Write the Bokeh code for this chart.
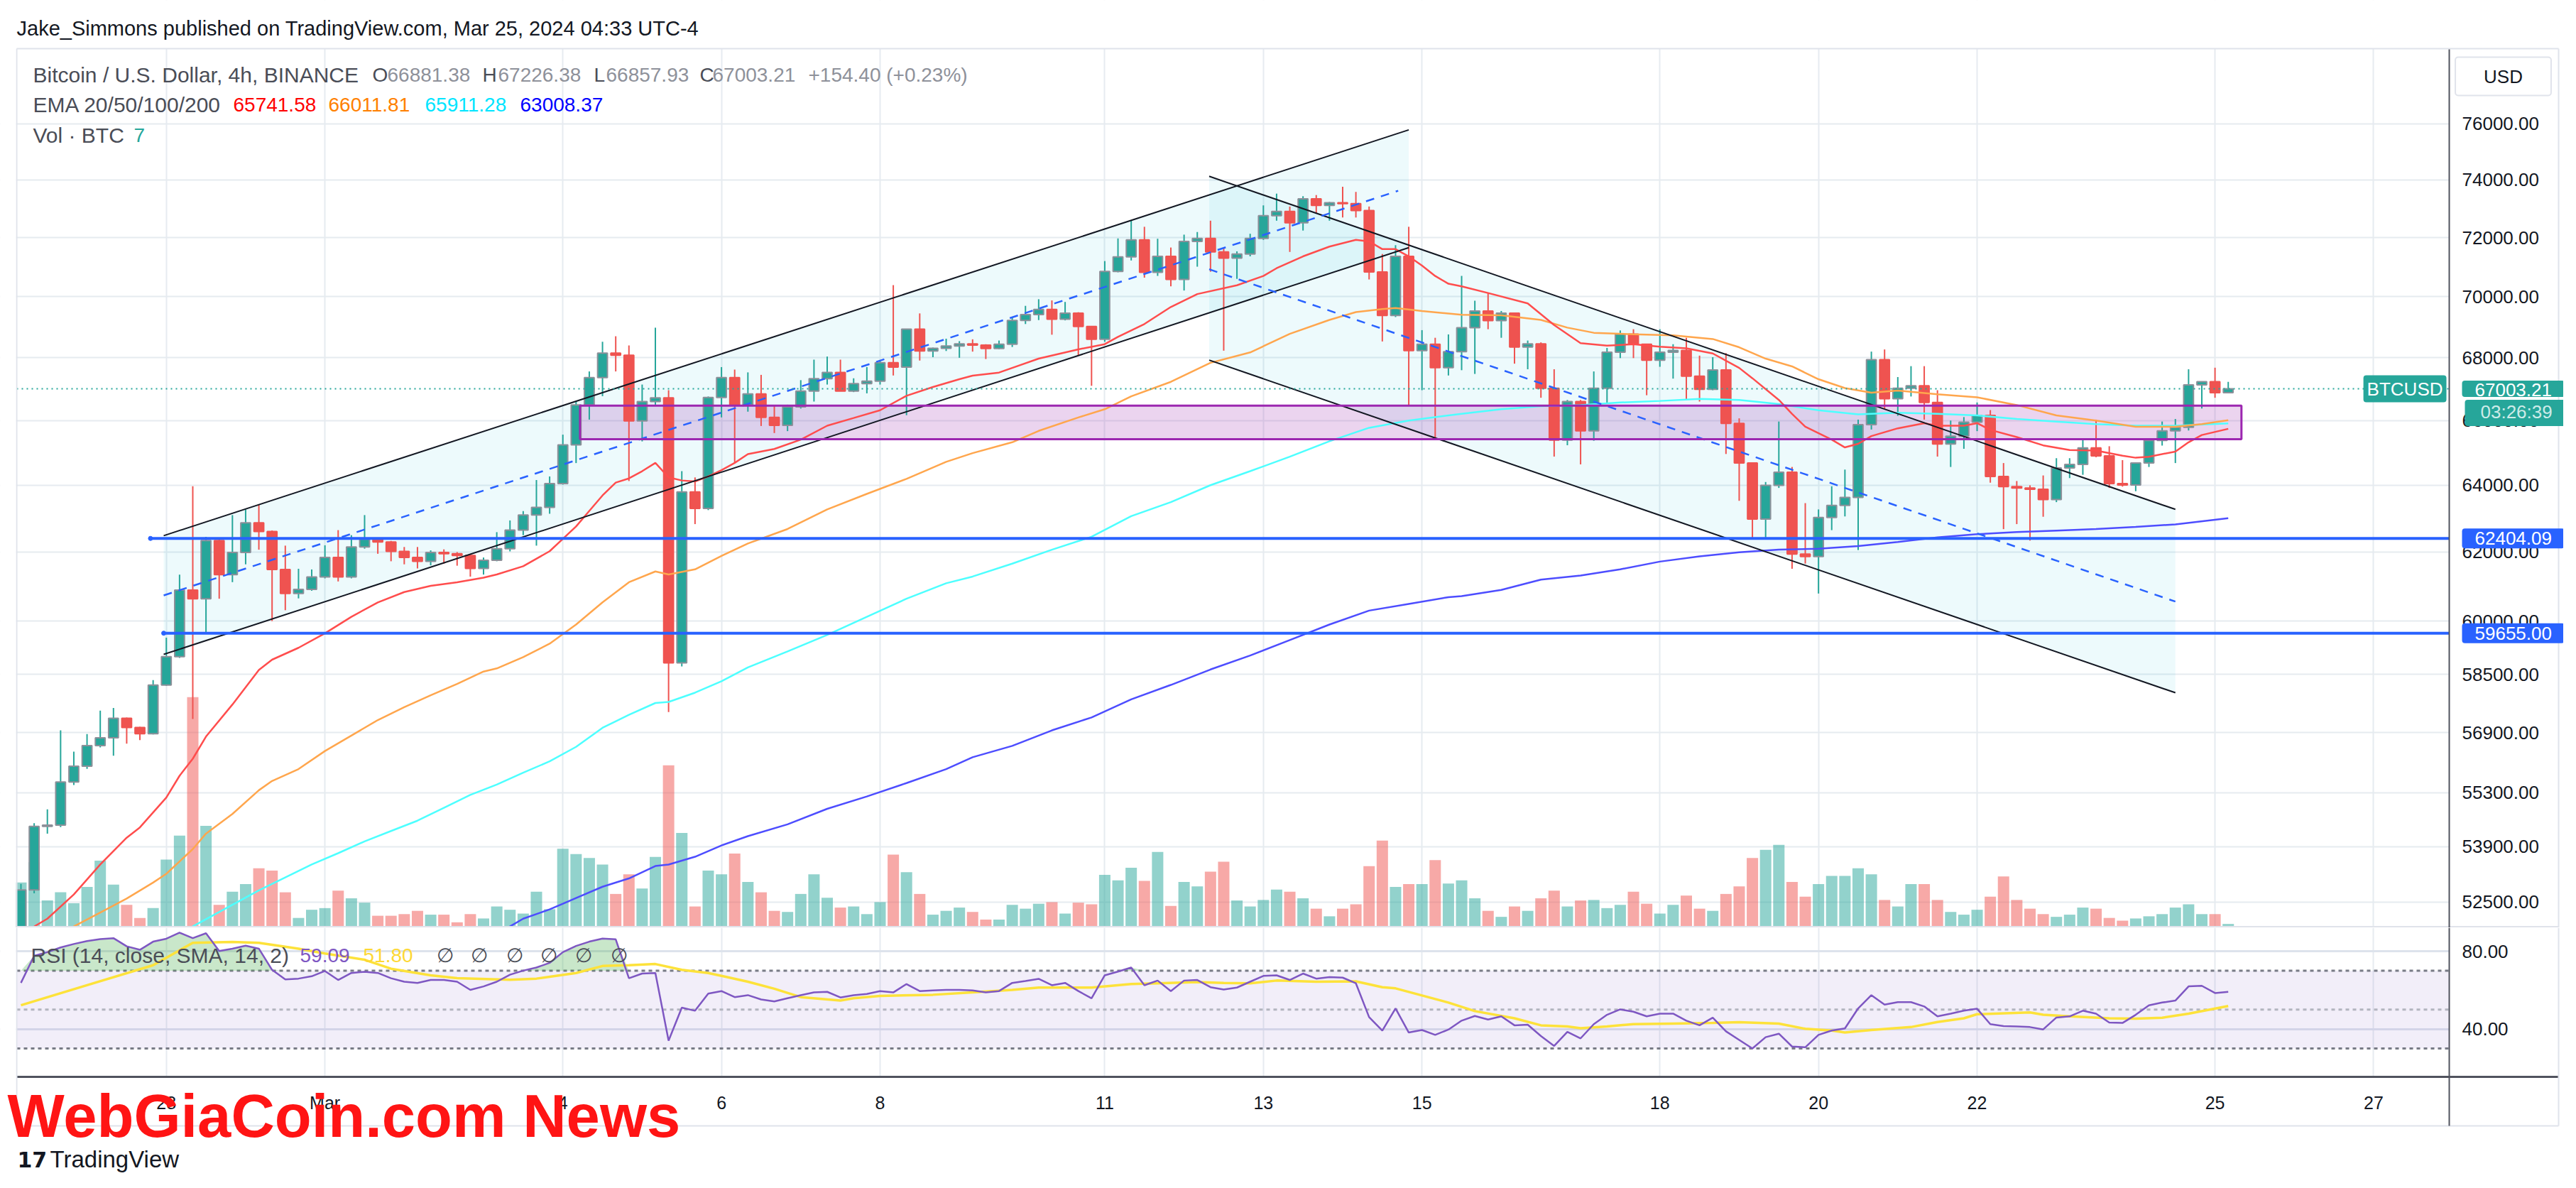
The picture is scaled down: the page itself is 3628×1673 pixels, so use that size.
import math
import numpy as np
from bokeh.plotting import figure
from bokeh.layouts import column
from bokeh.models import (ColumnDataSource, Range1d, LinearScale, FixedTicker,
                          PrintfTickFormatter, Label, Grid, BoxAnnotation)
from bokeh.embed import file_html
from bokeh.resources import INLINE

# ---------------- data (BTCUSD 4h, Binance, Feb 26 - Mar 25 2024) ----------------
opens = [51600, 52800, 54420, 54450, 55580, 56000, 56550, 56760, 57290, 57040,
         56870, 58200, 58990, 60890, 60640, 62340, 61340, 61990, 62870, 62610,
         61490, 60790, 60910, 61270, 61840, 61270, 62150, 62380, 62300, 62020,
         61840, 61730, 61990, 61950, 61900, 61520, 61760, 62100, 62650, 63100,
         63330, 64050, 65240, 66490, 67360, 68150, 68080, 65990, 66600, 66720,
         58820, 63800, 63300, 66730, 67360, 66490, 66840, 66100, 65850, 66430,
         66930, 67330, 67530, 66930, 67170, 67250, 67840, 67700, 68930, 68220,
         68310, 68380, 68450, 68410, 68300, 68440, 69220, 69410, 69580, 69260,
         69460, 69020, 68600, 70850, 71340, 71920, 70820, 71360, 70580, 71870,
         71970, 71510, 71300, 71440, 71970, 72750, 72900, 72510, 73340, 73110,
         73200, 73170, 72930, 70830, 69380, 71360, 68230, 68440, 67680, 68200,
         68980, 69530, 69210, 69460, 68350, 68450, 67020, 65390, 66600, 65680,
         67020, 68180, 68770, 68440, 67920, 68180, 68240, 67410, 66990, 67610,
         65910, 64680, 62980, 64000, 64400, 61940, 61870, 63030, 63390, 63630,
         65870, 67940, 66690, 67020, 67100, 66570, 65270, 65510, 65950, 66160,
         64270, 63960, 63920, 63880, 63570, 64530, 64640, 65150, 64900, 64050,
         64010, 64680, 65380, 65680, 65790, 67130, 67230, 66881.38]
highs = [52950, 54500, 54860, 56960, 56390, 56860, 57500, 57570, 57310, 57060,
         58340, 59530, 61340, 63970, 62450, 62370, 63100, 63270, 63410, 62640,
         62190, 61510, 61490, 62200, 62650, 62500, 63100, 62410, 62330, 62150,
         62150, 62050, 62080, 62000, 61920, 61840, 62590, 62940, 63220, 64160,
         64270, 65560, 66600, 67560, 68520, 68700, 68400, 67140, 68980, 66960,
         64430, 64240, 66760, 67700, 67620, 67530, 67450, 66460, 66500, 67280,
         67940, 68040, 67940, 67340, 67700, 67890, 70390, 68930, 69450, 68330,
         68620, 68540, 68600, 68440, 68560, 69310, 69700, 69920, 69880, 69830,
         69490, 69020, 71200, 71970, 72580, 72370, 71960, 71660, 72100, 72190,
         72580, 71650, 71530, 72130, 73110, 73520, 73070, 73430, 73470, 73230,
         73760, 73580, 73070, 71440, 71740, 72370, 68900, 68650, 68760, 70700,
         69870, 70140, 69530, 69480, 68560, 68500, 67630, 66650, 66650, 67560,
         68320, 68890, 68930, 68440, 68930, 68440, 68650, 68070, 68020, 68150,
         66070, 64680, 64100, 65970, 64560, 63460, 63270, 63970, 64480, 66030,
         68200, 68270, 67380, 67730, 67730, 66960, 66000, 66110, 66570, 66330,
         64680, 64130, 64000, 64300, 64830, 64830, 65430, 66030, 65200, 64770,
         64680, 65380, 65970, 66050, 67630, 67230, 67680, 67226.38]
lows = [51500, 52715, 54230, 54400, 55500, 55930, 56500, 56280, 56600, 56700,
        56850, 58180, 58960, 57270, 59630, 60640, 61120, 61640, 62070, 60000,
        60310, 60650, 60870, 61230, 61140, 61230, 62100, 61950, 61730, 61640,
        61520, 61610, 61660, 61600, 61280, 61340, 61730, 62020, 62500, 62190,
        63140, 64020, 64680, 66030, 66770, 67560, 64130, 65350, 66500, 57460,
        58720, 62830, 63250, 66100, 64680, 66280, 65830, 65610, 65670, 66380,
        66600, 67140, 66930, 66900, 66860, 67140, 67430, 66170, 67910, 68020,
        68220, 68000, 68200, 67960, 68280, 68350, 69100, 69230, 68750, 69220,
        68070, 67100, 68520, 70820, 71220, 70640, 70700, 70350, 70210, 71010,
        70840, 68230, 70600, 71360, 71920, 72580, 71510, 72240, 72820, 72580,
        72690, 72690, 70580, 68530, 69330, 66490, 66960, 65430, 67430, 67600,
        67480, 68930, 68650, 67810, 67630, 66720, 64880, 65230, 64640, 65370,
        66550, 67990, 67990, 66800, 67710, 67330, 66650, 66600, 66960, 64960,
        63530, 62400, 62400, 63920, 61510, 61660, 60790, 62650, 63060, 62060,
        65720, 66380, 66150, 66760, 66030, 64880, 64560, 65120, 65670, 64080,
        62680, 62830, 62340, 63050, 63490, 64220, 64320, 64860, 63920, 63960,
        63820, 64560, 65220, 64680, 65690, 66380, 66720, 66857.93]
closes = [52800, 54420, 54450, 55580, 56000, 56550, 56760, 57290, 57040, 56870,
          58200, 58990, 60890, 60640, 62340, 61340, 61990, 62870, 62610, 61490,
          60790, 60910, 61270, 61840, 61270, 62150, 62380, 62300, 62020, 61840,
          61730, 61990, 61950, 61900, 61520, 61760, 62100, 62650, 63100, 63330,
          64050, 65240, 66490, 67360, 68150, 68080, 65990, 66600, 66720, 58820,
          63800, 63300, 66730, 67360, 66490, 66840, 66100, 65850, 66430, 66930,
          67330, 67530, 66930, 67170, 67250, 67840, 67700, 68930, 68220, 68310,
          68380, 68450, 68410, 68300, 68440, 69220, 69410, 69580, 69260, 69460,
          69020, 68600, 70850, 71340, 71920, 70820, 71360, 70580, 71870, 71970,
          71510, 71300, 71440, 71970, 72750, 72900, 72510, 73340, 73110, 73200,
          73170, 72930, 70830, 69380, 71360, 68230, 68440, 67680, 68200, 68980,
          69530, 69210, 69460, 68350, 68450, 67020, 65390, 66600, 65680, 67020,
          68180, 68770, 68440, 67920, 68180, 68240, 67410, 66990, 67610, 65910,
          64680, 62980, 64000, 64400, 61940, 61870, 63030, 63390, 63630, 65870,
          67940, 66690, 67020, 67100, 66570, 65270, 65510, 65950, 66160, 64270,
          63960, 63920, 63880, 63570, 64530, 64640, 65150, 64900, 64050, 64010,
          64680, 65380, 65680, 65790, 67130, 67230, 66881.38, 67003.21]
volumes = [83, 120, 50, 65, 45, 75, 123, 79, 42, 18,
           36, 125, 169, 423, 187, 42, 66, 80, 109, 105,
           65, 18, 33, 36, 68, 54, 46, 22, 22, 25,
           31, 24, 24, 10, 25, 17, 39, 33, 26, 66,
           34, 145, 135, 128, 116, 62, 98, 72, 130, 298,
           174, 39, 105, 98, 136, 84, 65, 31, 29, 62,
           98, 55, 37, 39, 25, 47, 134, 102, 62, 24,
           31, 37, 29, 15, 15, 42, 35, 44, 47, 26,
           46, 43, 97, 87, 110, 86, 139, 40, 84, 76,
           103, 121, 50, 39, 51, 70, 66, 54, 35, 21,
           35, 43, 113, 160, 75, 80, 80, 124, 81, 87,
           54, 31, 20, 39, 31, 54, 68, 39, 50, 51,
           36, 42, 66, 44, 26, 42, 59, 35, 31, 62,
           76, 128, 143, 152, 84, 57, 80, 95, 95, 109,
           98, 51, 39, 80, 80, 51, 29, 24, 33, 57,
           94, 51, 35, 25, 20, 24, 37, 35, 18, 13,
           17, 21, 25, 37, 43, 25, 25, 7]
rsi_vals = [63.7, 77.6, 79.5, 81.9, 83.7, 85.2, 86.2, 86.7, 82.5, 80.7,
            84.9, 86.4, 89.5, 86.7, 89.2, 80.1, 81.3, 82.8, 81.3, 70.4,
            65.5, 65.9, 67.1, 69.8, 65.2, 68.8, 69.4, 68.8, 66.1, 64.3,
            63.7, 65.2, 65.2, 64.3, 60.1, 61.9, 64.3, 67.9, 70.0, 71.6,
            74.0, 79.5, 82.7, 84.9, 86.5, 86.1, 66.1, 68.5, 68.8, 34.0,
            51.0, 49.4, 58.2, 59.5, 56.4, 57.4, 55.2, 54.2, 55.8, 57.4,
            58.8, 59.1, 56.2, 57.4, 58.0, 59.5, 58.8, 63.1, 59.5, 59.8,
            60.1, 60.1, 59.8, 58.8, 59.5, 63.7, 64.7, 65.8, 62.5, 63.7,
            59.5, 55.8, 67.6, 69.5, 71.6, 62.5, 64.9, 59.5, 64.9, 65.2,
            61.5, 60.3, 61.3, 64.3, 67.3, 67.6, 65.2, 68.5, 65.9, 66.7,
            66.4, 63.5, 46.1, 39.2, 50.6, 38.2, 39.5, 37.0, 39.7, 44.3,
            46.7, 44.9, 46.5, 41.9, 42.2, 36.4, 31.3, 38.5, 35.2, 42.5,
            47.3, 50.1, 48.9, 46.5, 47.9, 47.9, 44.3, 41.9, 45.8, 38.8,
            34.4, 30.0, 35.8, 37.6, 31.0, 30.6, 37.0, 39.2, 40.3, 50.6,
            57.4, 52.5, 53.8, 53.8, 51.6, 46.5, 47.9, 49.4, 50.4, 42.5,
            41.5, 41.3, 41.0, 39.8, 45.9, 46.5, 49.4, 47.9, 43.3, 43.1,
            47.3, 52.2, 53.6, 54.6, 61.9, 62.2, 58.5, 59.09]
# (bar index, value)
rsi_sma = [(0, 52.2), (5, 62.5), (10, 72.8), (13, 84.3), (16, 84.7), (18, 84.3), (21, 81.3),
           (23, 78.8), (26, 75.6), (28, 71.0), (31, 67.6), (33, 66.1), (37, 65.3), (39, 65.9),
           (42, 68.8), (44, 72.4), (46, 72.8), (48, 73.4), (50, 70.4), (52, 68.8), (53, 67.3),
           (55, 64.3), (57, 60.7), (59, 56.4), (62, 54.6), (63, 55.8), (65, 57.0), (69, 57.6),
           (72, 58.8), (75, 60.1), (77, 61.3), (81, 61.3), (84, 63.1), (86, 63.5), (89, 64.1),
           (91, 63.7), (93, 63.5), (95, 64.9), (98, 64.3), (101, 64.5), (103, 61.5), (104, 60.9),
           (108, 53.6), (110, 49.2), (113, 45.5), (115, 41.9), (117, 41.3), (118, 40.4),
           (120, 41.3), (122, 42.5), (125, 42.8), (128, 43.1), (130, 43.5), (133, 42.8),
           (135, 40.1), (137, 39.2), (138, 38.2), (140, 39.5), (143, 41.0), (145, 43.6),
           (147, 45.5), (148, 47.6), (152, 48.5), (153, 47.3), (155, 46.5), (158, 45.5),
           (160, 45.3), (162, 45.8), (164, 47.9), (167, 51.8)]
ema20 = [(0, 51700), (1, 51890), (2, 52082), (4, 52686), (6, 53442), (8, 54127), (9, 54393),
         (11, 55172), (12, 55744), (13, 56198), (14, 56793), (16, 57665), (18, 58620), (19, 58908),
         (21, 59242), (23, 59651), (25, 60121), (27, 60535), (29, 60833), (31, 61012), (33, 61117),
         (35, 61252), (36, 61343), (38, 61584), (40, 62025), (42, 62760), (43, 63225), (44, 63692),
         (45, 64082), (46, 64210), (47, 64431), (48, 64685), (49, 64242), (50, 64147), (51, 64116),
         (52, 64273), (53, 64463), (54, 64685), (55, 64955), (57, 65115), (59, 65403), (61, 65839),
         (63, 66081), (65, 66325), (67, 66783), (69, 67062), (71, 67310), (72, 67425), (74, 67524),
         (77, 67973), (80, 68274), (82, 68442), (83, 68678), (85, 69101), (87, 69663), (89, 70092),
         (92, 70385), (94, 70697), (95, 70958), (97, 71359), (99, 71693), (101, 71922), (102, 71869),
         (103, 71605), (104, 71605), (105, 71359), (106, 71045), (107, 70697), (108, 70437),
         (109, 70351), (111, 70126), (114, 69783), (116, 69067), (118, 68476), (120, 68392),
         (122, 68442), (124, 68358), (126, 68307), (128, 68140), (130, 67673), (131, 67342),
         (133, 66651), (134, 66212), (135, 65807), (137, 65403), (138, 65163), (139, 65275),
         (140, 65516), (142, 65758), (144, 65919), (145, 65839), (147, 65839), (148, 65919),
         (149, 65709), (151, 65484), (153, 65227), (155, 65083), (157, 65067), (159, 64907),
         (160, 64844), (161, 64875), (163, 65035), (164, 65323), (165, 65548), (167, 65741.58)]
ema50 = [(0, 50900), (4, 51890), (6, 52236), (8, 52583), (10, 52985), (11, 53206), (13, 53835),
         (14, 54233), (16, 54741), (18, 55362), (19, 55607), (21, 55922), (23, 56405), (25, 56821),
         (27, 57241), (29, 57594), (31, 57920), (33, 58234), (35, 58577), (36, 58663), (38, 58981),
         (40, 59359), (42, 59900), (44, 60535), (46, 61117), (48, 61432), (49, 61343), (51, 61493),
         (53, 61888), (55, 62253), (58, 62684), (61, 63271), (64, 63739), (67, 64195), (70, 64717),
         (72, 64987), (75, 65323), (77, 65677), (80, 66097), (82, 66358), (84, 66766), (87, 67227),
         (90, 67839), (93, 68173), (96, 68779), (99, 69237), (101, 69492), (103, 69595),
         (104, 69629), (106, 69527), (109, 69407), (112, 69390), (115, 69237), (117, 68982),
         (119, 68813), (122, 68762), (125, 68729), (128, 68610), (130, 68341), (132, 67973),
         (134, 67723), (136, 67310), (138, 67029), (140, 66881), (142, 66947), (145, 66832),
         (148, 66734), (151, 66489), (154, 66162), (157, 66000), (160, 65807), (163, 65807),
         (165, 65887), (167, 66011.81)]
ema100 = [(8, 51000), (13, 51891), (16, 52428), (18, 52790), (20, 53115), (22, 53442), (24, 53730),
          (26, 54034), (28, 54300), (30, 54567), (32, 54902), (34, 55240), (36, 55512), (38, 55826),
          (40, 56128), (42, 56516), (44, 57031), (46, 57382), (48, 57707), (49, 57736), (51, 57991),
          (53, 58305), (55, 58692), (58, 59141), (61, 59607), (64, 60121), (67, 60640), (70, 61087),
          (72, 61283), (75, 61660), (78, 62070), (81, 62452), (84, 63069), (87, 63489), (90, 64004),
          (93, 64431), (96, 64875), (99, 65355), (102, 65774), (105, 66000), (108, 66162),
          (109, 66212), (112, 66358), (115, 66456), (118, 66489), (121, 66570), (124, 66619),
          (127, 66684), (130, 66651), (133, 66521), (136, 66325), (139, 66195), (142, 66244),
          (145, 66212), (148, 66162), (151, 66049), (154, 65968), (157, 65887), (160, 65839),
          (163, 65839), (167, 65911.28)]
ema200 = [(30, 50900), (37, 51891), (38, 52082), (40, 52313), (42, 52596), (44, 52880), (46, 53089),
          (48, 53403), (49, 53442), (51, 53639), (53, 53928), (55, 54167), (58, 54473), (61, 54876),
          (64, 55199), (67, 55552), (70, 55922), (72, 56238), (75, 56543), (78, 56961), (81, 57312),
          (84, 57807), (87, 58205), (90, 58634), (93, 59024), (96, 59461), (99, 59900), (102, 60299),
          (105, 60491), (108, 60684), (109, 60714), (112, 60893), (115, 61192), (118, 61312),
          (121, 61493), (124, 61720), (127, 61872), (130, 61994), (133, 62070), (136, 62101),
          (139, 62177), (142, 62299), (145, 62437), (148, 62528), (151, 62591), (154, 62637),
          (157, 62684), (160, 62745), (163, 62822), (167, 63008.37)]

price_ticks = [52500, 53900, 55300, 56900, 58500, 60000, 62000, 64000, 66000, 68000,
               70000, 72000, 74000, 76000]
rsi_ticks = [40, 80]
time_ticks = [11, 23, 41, 53, 65, 82, 94, 106, 124, 136, 148, 166, 178]
time_labels = ["28", "Mar", "4", "6", "8", "11", "13", "15", "18", "20", "22", "25", "27"]

# drawings (bar index, price)
asc_upper = [(10.8, 62486), (105.0, 75782)]
asc_lower = [(10.8, 59056), (105.0, 71657)]
asc_mid = [(10.8, 60736), (104.2, 73619)]
desc_upper = [(89.9, 74127), (163.0, 63272)]
desc_lower = [(89.9, 67925), (163.0, 57989)]
desc_mid = [(89.9, 70923), (163.0, 60558)]
zone = dict(left=42.3, right=168.0, bottom=65418, top=66470)
levels = [(9.8, 62404.09), (10.8, 59655.00)]
last_price = 67003.21

# ---------------- styling / layout helpers (page pixels -> data) ----------------
UP, DOWN = "#26A69A", "#EF5350"
GRID = "#E6EBF0"
BORDER = "#E0E3EB"
AXIS = "#50535E"
TXT = "#131722"
LEG = "#4A4D57"
VALC = "#8E919A"
FONT = "Liberation Sans"
BAR_PX = 18.615
W = 3610


def xpos(X):
    return (X - 29) / BAR_PX


def ypos(Y):
    return 76000 * math.exp(-(Y - 173.9) / 2962)


def rpos(Y):
    return 80 - (Y - 1339) / 2.74


N = len(closes)
idx = np.arange(N)
o = np.array(opens, float)
c = np.array(closes, float)
up = c >= o
src = ColumnDataSource(dict(
    x=idx, h=highs, l=lows, top=np.maximum(o, c), bottom=np.minimum(o, c),
    fill=[UP if u else DOWN for u in up],
    edge=["#8C9099" if u else DOWN for u in up],
    vol=volumes,
))


def white_box(fig, level="underlay", **kw):
    fig.add_layout(BoxAnnotation(fill_color="white", fill_alpha=1.0, line_color=None,
                                 level=level, **kw))


def seg(fig, x0, y0, x1, y1, color, width, dash="solid"):
    fig.segment(x0=[x0], y0=[y0], x1=[x1], y1=[y1], line_color=color, line_width=width,
                line_dash=dash)


def label(fig, X, y, text, color, size="28px", align="left", font=FONT, **kw):
    fig.add_layout(Label(x=xpos(X), y=y, text=text, text_color=color, text_font=font,
                         text_font_size=size, text_align=align, text_baseline="middle", **kw))


def tag(fig, X, y, text, bg, fg="white", align="left", pad=(18, 18, 5, 5), size="26px", **kw):
    fig.add_layout(Label(x=xpos(X), y=y, text=text, text_color=fg, text_font=FONT,
                         text_font_size=size, text_align=align, text_baseline="middle",
                         background_fill_color=bg,
                         padding=dict(left=pad[0], right=pad[1], top=pad[2], bottom=pad[3]),
                         border_radius=4, **kw))


# ---------------- main price pane ----------------
main = figure(width=W, height=1306, x_range=Range1d(xpos(0), xpos(W)),
              y_range=Range1d(ypos(1306), ypos(0)), y_axis_type="log",
              y_axis_location="right", x_axis_location=None,
              output_backend="svg", toolbar_location=None,
              min_border_left=0, min_border_right=0, min_border_top=0, min_border_bottom=0)
main.center = [r for r in main.center if not isinstance(r, Grid)]
main.add_layout(Grid(dimension=0, ticker=FixedTicker(ticks=time_ticks),
                     grid_line_color=GRID, grid_line_width=2))
main.add_layout(Grid(dimension=1, ticker=FixedTicker(ticks=price_ticks),
                     grid_line_color=GRID, grid_line_width=2))
main.outline_line_color = None
main.background_fill_color = "white"
main.border_fill_color = "white"
white_box(main, bottom=ypos(68))
white_box(main, left=xpos(3449))

ya = main.yaxis[0]
ya.fixed_location = xpos(3449)
ya.ticker = FixedTicker(ticks=price_ticks)
ya.formatter = PrintfTickFormatter(format="%.2f")
ya.major_tick_line_color = None
ya.minor_tick_line_color = None
ya.major_tick_out = 0
ya.axis_line_color = None
ya.major_label_text_font = FONT
ya.major_label_text_font_size = "26px"
ya.major_label_text_color = TXT
ya.major_label_standoff = 18

main.extra_y_ranges = {"vol": Range1d(0, 1701)}
main.extra_y_scales = {"vol": LinearScale()}

# volume
main.vbar(x="x", width=0.86, top="vol", bottom=0, y_range_name="vol", source=src,
          fill_color="fill", fill_alpha=0.5, line_color=None)

# channel fills and zone
for lo, hi in ((asc_lower, asc_upper), (desc_lower, desc_upper)):
    main.patch([lo[0][0], lo[1][0], hi[1][0], hi[0][0]],
               [lo[0][1], lo[1][1], hi[1][1], hi[0][1]],
               fill_color="#00BCD4", fill_alpha=0.07, line_color=None)
main.quad(left=[zone["left"]], right=[zone["right"]], bottom=[zone["bottom"]], top=[zone["top"]],
          fill_color="#9C27B0", fill_alpha=0.2, line_color=None)

# candles
main.segment(x0="x", y0="l", x1="x", y1="h", line_color="fill", line_width=2, source=src)
main.vbar(x="x", width=0.74, top="top", bottom="bottom", fill_color="fill",
          line_color="edge", line_width=2, source=src)

# EMAs
for series, col in ((ema200, "#4D4DFF"), (ema100, "#4DFFFF"), (ema50, "#FFA64D"), (ema20, "#FF4D4D")):
    main.line([p[0] for p in series], [p[1] for p in series], line_color=col, line_width=2.5)

# drawings
for ln in (asc_upper, asc_lower, desc_upper, desc_lower):
    seg(main, ln[0][0], ln[0][1], ln[1][0], ln[1][1], TXT, 2)
for ln in (asc_mid, desc_mid):
    seg(main, ln[0][0], ln[0][1], ln[1][0], ln[1][1], "#2962FF", 2.5, "12 10")
main.quad(left=[zone["left"]], right=[zone["right"]], bottom=[zone["bottom"]], top=[zone["top"]],
          fill_color=None, line_color="#9C27B0", line_width=3)
for x0, lv in levels:
    seg(main, x0, lv, xpos(3449), lv, "#2962FF", 4)
    main.scatter([x0], [lv], size=6, color="#2962FF")
seg(main, xpos(23), last_price, xpos(3449), last_price, UP, 2, "2 5")

# frame borders and price-scale line
seg(main, xpos(23), ypos(68), xpos(3603), ypos(68), BORDER, 2)
seg(main, xpos(23), ypos(68), xpos(23), ypos(1306), BORDER, 2)
seg(main, xpos(3603), ypos(68), xpos(3603), ypos(1306), BORDER, 2)
seg(main, xpos(23), ypos(1305), xpos(3603), ypos(1305), BORDER, 3)
seg(main, xpos(3449), ypos(69), xpos(3449), ypos(1306), AXIS, 2)
white_box(main, level="annotation", right=xpos(22))

# header + legend
label(main, 23, ypos(39), "Jake_Simmons published on TradingView.com, Mar 25, 2024 04:33 UTC-4",
      TXT, size="29px")
yl1, yl2, yl3 = ypos(105), ypos(147), ypos(190)
label(main, 46, yl1, "Bitcoin / U.S. Dollar, 4h, BINANCE", LEG, size="30px")
for X, t, col in ((524, "O", LEG), (545, "66881.38", VALC), (679, "H", LEG), (701, "67226.38", VALC),
                  (836, "L", LEG), (853, "66857.93", VALC), (985, "C", LEG), (1003, "67003.21", VALC),
                  (1138, "+154.40 (+0.23%)", VALC)):
    label(main, X, yl1, t, col)
label(main, 46, yl2, "EMA 20/50/100/200", LEG, size="30px")
for X, t, col in ((328, "65741.58", "#FF0000"), (462, "66011.81", "#FF8000"),
                  (598, "65911.28", "#00E5FF"), (732, "63008.37", "#0000FF")):
    label(main, X, yl2, t, col)
label(main, 46, yl3, "Vol \u00b7 BTC", LEG, size="30px")
label(main, 188, yl3, "7", UP)

# price tags
tag(main, 3467, 62404.09, "62404.09", "#2962FF")
tag(main, 3467, 59655.00, "59655.00", "#2962FF")
tag(main, 3467, ypos(547), "67003.21", UP, pad=(18, 18, 4, 1))
tag(main, 3471, ypos(581), "03:26:39", UP, fg="#CDEBE8", pad=(22, 22, 2, 5))
tag(main, 3445, last_price, "BTCUSD", UP, align="right", pad=(5, 5, 4, 4))
tag(main, 3525, ypos(107), "USD", "white", fg=TXT, align="center", pad=(40, 40, 12, 12),
    border_line_color=BORDER, border_line_width=2)

# ---------------- RSI pane + time scale ----------------
rsi = figure(width=W, height=359, x_range=main.x_range, y_range=Range1d(rpos(1665), rpos(1306)),
             y_axis_location="right", output_backend="svg", toolbar_location=None,
             min_border_left=0, min_border_right=0, min_border_top=0, min_border_bottom=0)
rsi.center = [r for r in rsi.center if not isinstance(r, Grid)]
rsi.add_layout(Grid(dimension=0, ticker=FixedTicker(ticks=time_ticks),
                    grid_line_color=GRID, grid_line_width=2))
rsi.add_layout(Grid(dimension=1, ticker=FixedTicker(ticks=rsi_ticks),
                    grid_line_color="#DDE3EC", grid_line_width=3))
rsi.outline_line_color = None
rsi.background_fill_color = "white"
rsi.border_fill_color = "white"
white_box(rsi, top=rpos(1516))
white_box(rsi, left=xpos(3449))
rsi.add_layout(BoxAnnotation(bottom=30, top=70, left=xpos(23), right=xpos(3449),
                             fill_color="#7E57C2", fill_alpha=0.1, line_color=None, level="underlay"))

xa = rsi.xaxis[0]
xa.fixed_location = rpos(1516)
xa.ticker = FixedTicker(ticks=time_ticks)
xa.major_label_overrides = {t: s for t, s in zip(time_ticks, time_labels)}
xa.major_tick_line_color = None
xa.minor_tick_line_color = None
xa.major_tick_out = 0
xa.axis_line_color = None
xa.major_label_text_font = FONT
xa.major_label_text_font_size = "25px"
xa.major_label_text_color = TXT
xa.major_label_standoff = 22

ra = rsi.yaxis[0]
ra.fixed_location = xpos(3449)
ra.ticker = FixedTicker(ticks=rsi_ticks)
ra.formatter = PrintfTickFormatter(format="%.2f")
ra.major_tick_line_color = None
ra.minor_tick_line_color = None
ra.major_tick_out = 0
ra.axis_line_color = None
ra.major_label_text_font = FONT
ra.major_label_text_font_size = "26px"
ra.major_label_text_color = TXT
ra.major_label_standoff = 18

for lv, col in ((70, "#787B86"), (50, "#B2B5BE"), (30, "#787B86")):
    seg(rsi, xpos(23), lv, xpos(3449), lv, col, 3, "5 5")
rv = np.array(rsi_vals)
rsi.varea(x=idx, y1=np.full(N, 70.0), y2=np.maximum(rv, 70), fill_color="#4CAF50", fill_alpha=0.3)
rsi.line([p[0] for p in rsi_sma], [p[1] for p in rsi_sma], line_color="#FDE23A", line_width=3.5)
rsi.line(idx, rv, line_color="#7E57C2", line_width=2.5)

# pane borders, time-scale line, price-scale line
seg(rsi, xpos(23), rpos(1516), xpos(3603), rpos(1516), AXIS, 3)
seg(rsi, xpos(23), rpos(1585), xpos(3603), rpos(1585), BORDER, 2)
seg(rsi, xpos(23), rpos(1306), xpos(23), rpos(1585), BORDER, 2)
seg(rsi, xpos(3603), rpos(1306), xpos(3603), rpos(1585), BORDER, 2)
seg(rsi, xpos(3449), rpos(1306), xpos(3449), rpos(1585), AXIS, 2)
white_box(rsi, level="annotation", right=xpos(22))

yr = rpos(1345)
label(rsi, 43, yr, "RSI (14, close, SMA, 14, 2)", LEG, size="30px")
label(rsi, 422, yr, "59.09", "#7E57C2")
label(rsi, 511, yr, "51.80", "#FDD835")
for X in (614, 662, 712, 760, 809, 859):
    label(rsi, X, yr, "\u2205", LEG)

# watermark and logo
label(rsi, 10, rpos(1571), "WebGiaCoin.com News", "#FF1414", size="85px",
      font="Liberation Sans", text_font_style="bold")
label(rsi, 24, rpos(1632), "17", TXT, size="30px", font="DejaVu Sans", text_font_style="bold")
label(rsi, 70, rpos(1632), "TradingView", TXT, size="33px")

layout = column(main, rsi)
open("out.html", "w").write(file_html(layout, INLINE))
